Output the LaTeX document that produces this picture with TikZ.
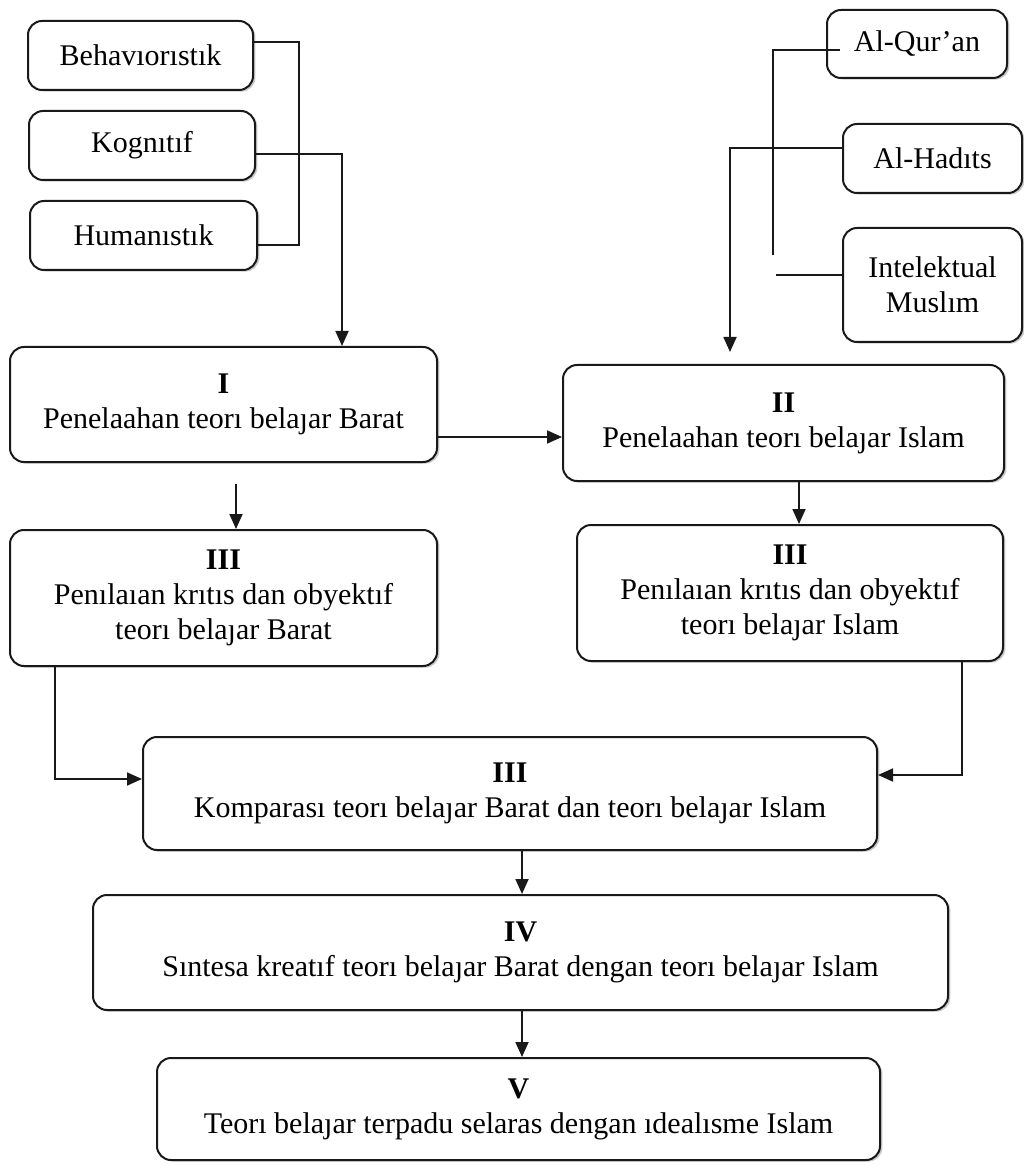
\documentclass[tikz,border=0pt]{standalone}
\usepackage{fontspec}
\setmainfont{Liberation Serif}
\usepackage{tikz}
\usetikzlibrary{arrows.meta,calc,shadows}
\tikzset{
box/.style={draw=black!90, line width=1pt, rounded corners=7pt, fill=white, align=center, inner sep=0pt,
  font=\fontsize{15}{17.5}\selectfont,
  drop shadow={shadow xshift=1.2pt, shadow yshift=-0.8pt, fill=black!35, opacity=0.6}},
link/.style={draw=black!90, line width=0.9pt},
arrow/.style={link, -{Triangle[length=7.5pt,width=6.5pt]}}
}

\begin{document}
\begin{tikzpicture}[x=0.5pt,y=-0.5pt]
\useasboundingbox (0,0) rectangle (1023,1165);

\node[box, minimum width=112.5pt, minimum height=34.5pt] (beh) at (140.5,55.5) {Behavıorıstık};
\node[box, minimum width=113pt, minimum height=34.5pt] (kog) at (142,145.5) {Kognıtıf};
\node[box, minimum width=113.5pt, minimum height=34.5pt] (hum) at (143.5,235.5) {Humanıstık};

\node[box, minimum width=90pt, minimum height=34pt] (quran) at (917,44) {Al-Qur’an};
\node[box, minimum width=89.5pt, minimum height=34.5pt] (hadits) at (932.5,158.5) {Al-Hadıts};
\node[box, minimum width=89.5pt, minimum height=57pt] (intel) at (932.5,285) {Intelektual\\Muslım};

\node[box, minimum width=213.5pt, minimum height=57.5pt] (teo1) at (223.5,404.5) {\textbf{I}\\Penelaahan teorı belaȷar Barat};
\node[box, minimum width=220.5pt, minimum height=58pt] (teo2) at (783.5,423) {\textbf{II}\\Penelaahan teorı belaȷar Islam};
\node[box, minimum width=213.5pt, minimum height=68pt] (nil1) at (223.5,598) {\textbf{III}\\Penılaıan krıtıs dan obyektıf\\teorı belaȷar Barat};
\node[box, minimum width=213pt, minimum height=68pt] (nil2) at (790,593) {\textbf{III}\\Penılaıan krıtıs dan obyektıf\\teorı belaȷar Islam};
\node[box, minimum width=367pt, minimum height=56.5pt] (komp) at (510,793.5) {\textbf{III}\\Komparası teorı belaȷar Barat dan teorı belaȷar Islam};
\node[box, minimum width=427.5pt, minimum height=57.5pt] (sint) at (520.5,952.5) {\textbf{IV}\\Sıntesa kreatıf teorı belaȷar Barat dengan teorı belaȷar Islam};
\node[box, minimum width=361.5pt, minimum height=51pt] (terp) at (518.5,1109) {\textbf{V}\\Teorı belaȷar terpadu selaras dengan ıdealısme Islam};

\coordinate (qend) at (773,255);
\coordinate (iend) at (776,275);

\draw[link] ($(beh.east)+(0,-13.5)$) -| ($(hum.east)+(41,9.5)$) -- ($(hum.east)+(0,9.5)$);
\draw[arrow] ($(kog.east)+(0,8.5)$) -| ($(teo1.north west)+(333,0)$);

\draw[link] ($(quran.west)+(14,6)$) -| (qend);
\draw[link] ($(intel.west)+(0,-10)$) -- (iend);
\draw[arrow, shorten >=6pt] ($(hadits.west)+(0,-10.5)$) -| ($(teo2.north west)+(168,0)$);

\draw[arrow] ($(teo1.east)+(0,32.5)$) -- ($(teo2.west)+(0,14)$);
\draw[arrow, shorten <=10.5pt] ($(teo1.south west)+(227,0)$) -- ($(nil1.north west)+(227,0)$);
\draw[arrow] ($(teo2.south west)+(237,0)$) -- ($(nil2.north west)+(223,0)$);

\draw[arrow] ($(nil1.south west)+(46,0)$) |- ($(komp.west)+(0,-14.5)$);
\draw[arrow] ($(nil2.south east)+(-42,0)$) |- ($(komp.east)+(0,-18.5)$);

\draw[arrow] ($(komp.south)+(12,0)$) -- ($(sint.north)+(1.5,0)$);
\draw[arrow] ($(sint.south)+(1.5,0)$) -- ($(terp.north)+(3.5,0)$);
\end{tikzpicture}
\end{document}
